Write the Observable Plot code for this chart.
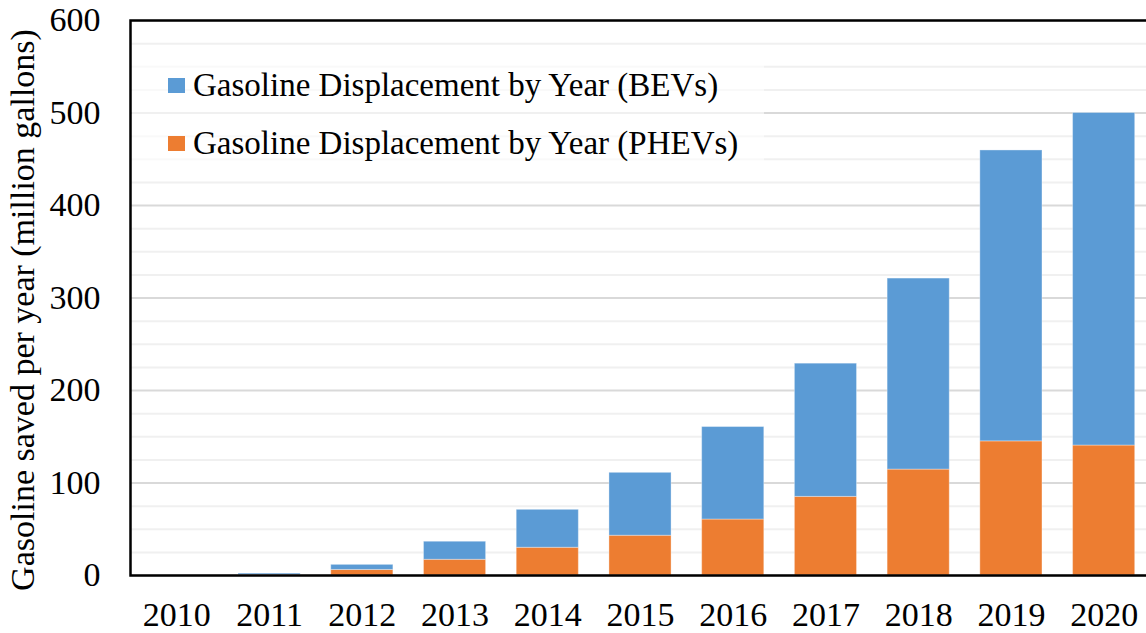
<!DOCTYPE html>
<html>
<head>
<meta charset="utf-8">
<script src="https://cdn.jsdelivr.net/npm/d3@7"></script>
<script src="https://cdn.jsdelivr.net/npm/@observablehq/plot@0.6"></script>
<style>
  html, body { margin: 0; padding: 0; background: #fff; overflow: hidden; }
  #wrap { position: relative; width: 1146px; height: 633px; }
  #legend {
    position: absolute; left: 132px; top: 56px; width: 632px; height: 116px;
    background: rgba(255,255,255,0.6);
    font-family: "Liberation Serif", serif; font-size: 33px; color: #000;
  }
  .item { position: absolute; left: 36px; display: flex; align-items: center; white-space: nowrap; }
  .sw { width: 17px; height: 15px; margin-right: 8px; }
</style>
</head>
<body>
<div id="wrap">
  <div id="chart"></div>
  <div id="legend"></div>
</div>
<script>
const years = ["2010","2011","2012","2013","2014","2015","2016","2017","2018","2019","2020"];
const phevValues = [0, 0.5, 6, 17, 30, 43, 60.5, 85, 114.5, 145, 140.5];
const bevValues  = [0, 1.5, 5.5, 19.5, 41, 68, 100, 144, 206.5, 314.5, 359.5];
const seriesNames = ["Gasoline Displacement by Year (BEVs)", "Gasoline Displacement by Year (PHEVs)"];
const seriesColors = ["#5b9bd5", "#ed7d31"];
const yTicks = [0, 100, 200, 300, 400, 500, 600];
const yMinorTicks = [25, 50, 75, 125, 150, 175, 225, 250, 275, 325, 350, 375, 425, 450, 475, 525, 550, 575];
const yTitle = "Gasoline saved per year (million gallons)";

const rows = [];
years.forEach((y, i) => {
  rows.push({year: y, series: seriesNames[1], value: phevValues[i]});
  rows.push({year: y, series: seriesNames[0], value: bevValues[i]});
});

const chart = Plot.plot({
  width: 1146,
  height: 633,
  marginLeft: 130,
  marginRight: -4,
  marginTop: 20,
  marginBottom: 58,
  style: {fontFamily: "Liberation Serif, serif", fontSize: "34px", color: "#000", background: "#fff", overflow: "visible"},
  x: {domain: years, range: [130, 1150], round: false, paddingInner: 0.33, paddingOuter: 0.165},
  y: {domain: [0, 600]},
  color: {domain: seriesNames, range: seriesColors},
  marks: [
    Plot.ruleY(yMinorTicks, {stroke: "#f0f0f0", strokeWidth: 2}),
    Plot.ruleY(yTicks, {stroke: "#d9d9d9", strokeWidth: 2}),
    Plot.barY(rows, {x: "year", y: "value", fill: "series", order: [seriesNames[1], seriesNames[0]], stroke: "#fff", strokeOpacity: 0.35, strokeWidth: 1}),
    Plot.frame({stroke: "#000", strokeWidth: 2.5}),
    Plot.axisY({ticks: yTicks, tickSize: 0, tickPadding: 30, label: null}),
    Plot.text([yTitle], {frameAnchor: "left", rotate: -90, dx: -107, dy: 12, textAnchor: "middle", lineAnchor: "middle", fontSize: 34, fill: "#000"}),
    Plot.axisX({tickSize: 0, tickPadding: 26, label: null})
  ]
});
document.getElementById("chart").appendChild(chart);

const legend = document.getElementById("legend");
seriesNames.forEach((name, i) => {
  const item = document.createElement("div");
  item.className = "item";
  item.style.top = (i === 0 ? 11 : 69) + "px";
  const sw = document.createElement("span");
  sw.className = "sw";
  sw.style.background = seriesColors[i];
  const t = document.createElement("span");
  t.textContent = name;
  item.appendChild(sw);
  item.appendChild(t);
  legend.appendChild(item);
});
</script>
</body>
</html>
